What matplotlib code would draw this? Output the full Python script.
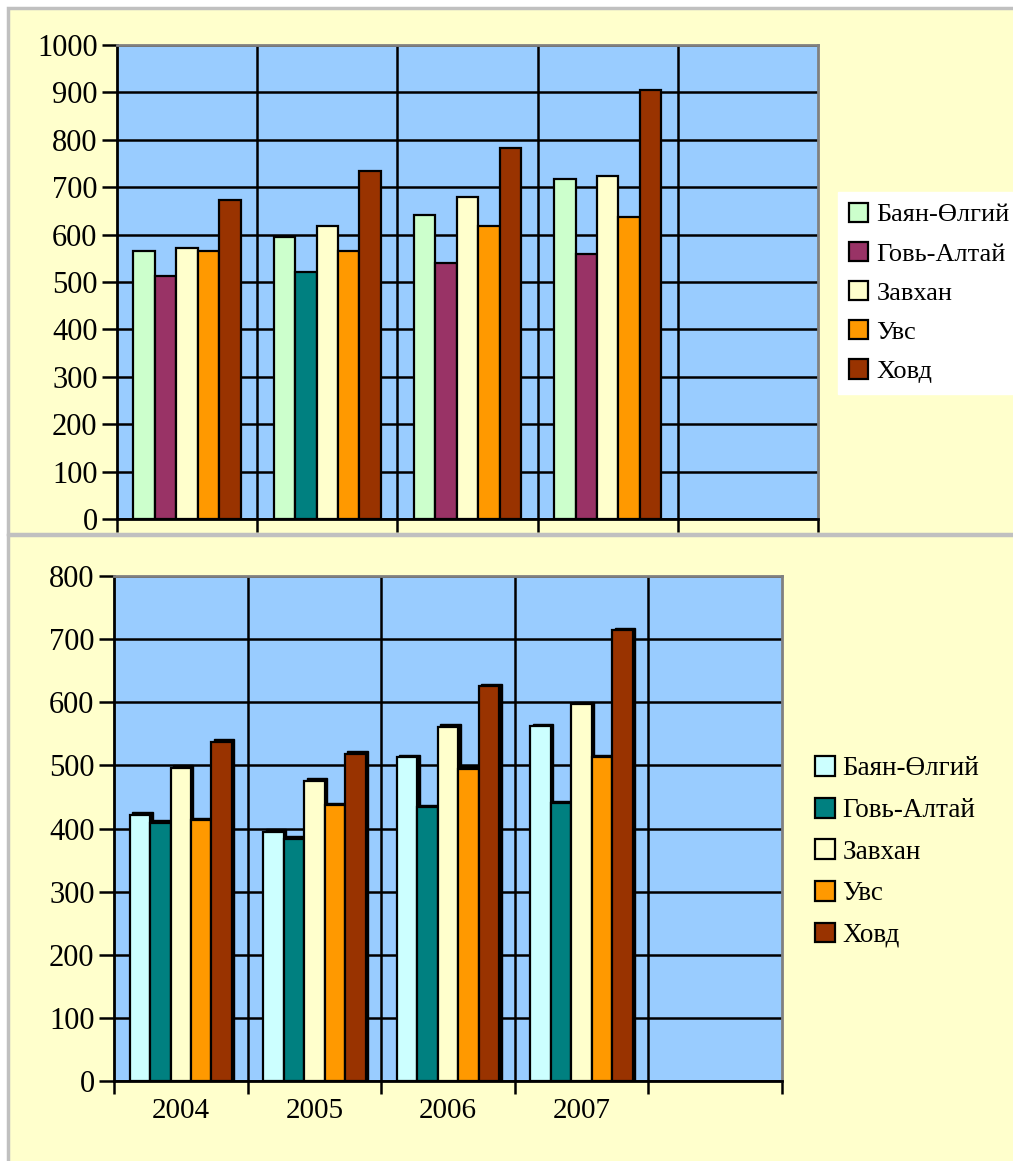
import matplotlib
matplotlib.use('Agg')
import matplotlib.pyplot as plt
from matplotlib.patches import Rectangle, Patch
import numpy as np

plt.rcParams['font.family'] = ['Liberation Serif', 'DejaVu Serif']

# data
years = ['2004', '2005', '2006', '2007']
regions = ['Баян-Өлгий', 'Говь-Алтай', 'Завхан', 'Увс', 'Ховд']

top_bayan = [566, 595, 641, 717]
top_govi = [512, 522, 541, 559]
top_zavkhan = [571, 618, 680, 723]
top_uvs = [566, 566, 618, 638]
top_khovd = [673, 735, 782, 905]

bot_bayan = [422, 395, 513, 562]
bot_govi = [409, 384, 434, 440]
bot_zavkhan = [496, 476, 561, 597]
bot_uvs = [413, 437, 495, 513]
bot_khovd = [537, 518, 625, 714]

top_ticks = list(range(0, 1001, 100))
bot_ticks = list(range(0, 801, 100))

# colours
top_colors = ['#CCFFCC', '#993366', '#FFFFCC', '#FF9900', '#993300']
top_govi_colors = ['#993366', '#008080', '#993366', '#993366']
bot_colors = ['#CCFFFF', '#008080', '#FFFFCC', '#FF9900', '#993300']
PANEL = '#FFFFCC'
PLOT_BG = '#99CCFF'

W, H = 1013, 1161
fig = plt.figure(figsize=(W / 100, H / 100), dpi=100)
fig.patch.set_facecolor('white')


def box(x0, y0, x1, y1):
    # pixel box -> figure fraction [left, bottom, width, height]
    return [x0 / W, 1 - y1 / H, (x1 - x0) / W, (y1 - y0) / H]


# yellow panels with gray frames
for (x0, y0, x1, y1) in [(8, 8, W + 5, 534), (8, 535, W + 5, H + 5)]:
    l, b, w, h = box(x0, y0, x1, y1)
    fig.patches.append(Rectangle((l, b), w, h, transform=fig.transFigure,
                                 facecolor=PANEL, edgecolor='#C0C0C0', lw=2.5, zorder=-10))

n_slots = 5
bar_w = 0.153
offsets = (np.arange(5) - 2) * bar_w


def style_axes(ax, ymax, ticks):
    ax.set_facecolor(PLOT_BG)
    ax.set_xlim(-0.5, n_slots - 0.5)
    ax.set_ylim(0, ymax)
    ax.set_yticks(ticks)
    ax.set_yticklabels([str(t) for t in ticks], fontsize=22)
    ax.set_xticks(np.arange(n_slots + 1) - 0.5)
    ax.set_xticklabels([])
    ax.tick_params(axis='y', direction='out', length=11, width=1.8, pad=3)
    ax.tick_params(axis='x', direction='out', length=9, width=1.8)
    ax.set_axisbelow(True)
    ax.yaxis.grid(True, color='black', lw=1.8)
    for xb in np.arange(1, n_slots) - 0.5:
        ax.axvline(xb, color='black', lw=1.8, zorder=0.5)
    for s in ['left', 'bottom']:
        ax.spines[s].set_color('black')
        ax.spines[s].set_linewidth(2)
    for s in ['top', 'right']:
        ax.spines[s].set_color('#808080')
        ax.spines[s].set_linewidth(2)


x = np.arange(len(years))

# top chart
ax1 = fig.add_axes(box(117, 45, 818, 519))
style_axes(ax1, 1000, top_ticks)
top_series = [top_bayan, top_govi, top_zavkhan, top_uvs, top_khovd]
for i, vals in enumerate(top_series):
    cols = top_govi_colors if i == 1 else top_colors[i]
    ax1.bar(x + offsets[i], vals, width=bar_w, color=cols,
            edgecolor='black', lw=1.6, zorder=3)

h1 = [Patch(facecolor=c, edgecolor='black', lw=1.6) for c in top_colors]
leg1 = fig.legend(h1, regions, loc='upper left', bbox_to_anchor=(838 / W, 1 - 192 / H),
                  fontsize=19, frameon=True, fancybox=False, framealpha=1,
                  handlelength=0.75, handleheight=0.75, handletextpad=0.3,
                  labelspacing=0.58, borderpad=0.4, borderaxespad=0)
leg1.get_frame().set_facecolor('white')
leg1.get_frame().set_edgecolor('white')

# bottom chart
ax2 = fig.add_axes(box(114, 576, 782, 1081))
style_axes(ax2, 800, bot_ticks)
ax2.set_xticks(x, minor=True)
ax2.set_xticklabels(years, minor=True, fontsize=21)
ax2.tick_params(axis='x', which='minor', length=0, pad=12)
bot_series = [bot_bayan, bot_govi, bot_zavkhan, bot_uvs, bot_khovd]
dx, dy = 0.018, 4
for i, vals in enumerate(bot_series):
    # dark shadow gives the raised look
    ax2.bar(x + offsets[i] + dx, np.array(vals) + dy, width=bar_w, color='black',
            edgecolor='black', lw=1.0, zorder=2)
    ax2.bar(x + offsets[i], vals, width=bar_w, color=bot_colors[i],
            edgecolor='black', lw=1.6, zorder=3)

h2 = [Patch(facecolor=c, edgecolor='black', lw=1.6) for c in bot_colors]
fig.legend(h2, regions, loc='upper left', bbox_to_anchor=(807 / W, 1 - 748 / H),
           fontsize=19.5, frameon=False, handlelength=0.75, handleheight=0.75,
           handletextpad=0.25, labelspacing=0.6, borderpad=0.3, borderaxespad=0)

fig.savefig('out.png', dpi=100, facecolor=fig.get_facecolor())
